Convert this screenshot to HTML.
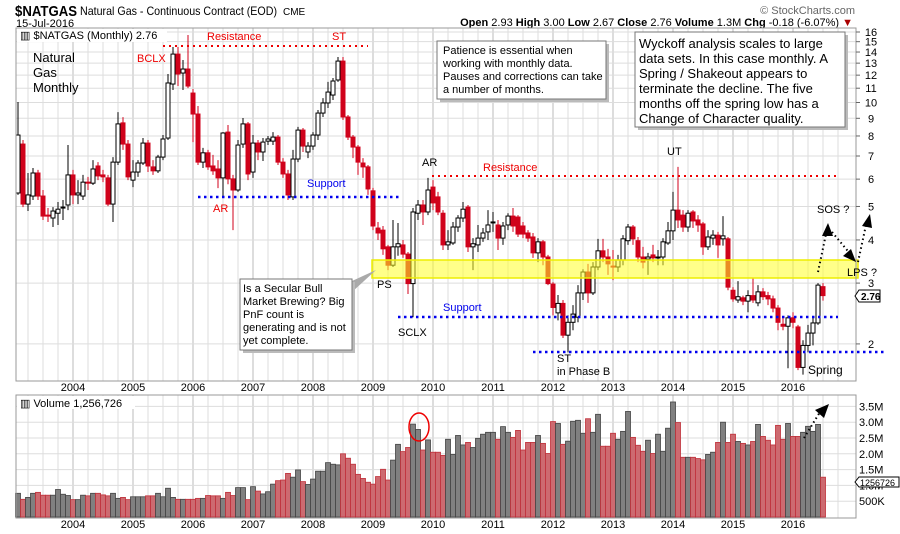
<!DOCTYPE html>
<html><head><meta charset="utf-8"><style>
html,body{margin:0;padding:0;background:#fff;}
svg{display:block;font-family:"Liberation Sans",sans-serif;}
</style></head><body>
<svg id="chart" width="900" height="534" viewBox="0 0 900 534" xmlns="http://www.w3.org/2000/svg">
<rect x="0" y="0" width="900" height="534" fill="#fff"/>
<text x="15" y="16" font-size="15" font-weight="bold" textLength="62" lengthAdjust="spacingAndGlyphs">$NATGAS</text>
<text x="80" y="15" font-size="12" textLength="197" lengthAdjust="spacingAndGlyphs">Natural Gas - Continuous Contract (EOD)</text>
<text x="283" y="15" font-size="10">CME</text>
<text x="16" y="27" font-size="11">15-Jul-2016</text>
<text x="855" y="14" font-size="11" fill="#666" text-anchor="end">© StockCharts.com</text>
<text x="853" y="26" font-size="11" text-anchor="end"><tspan font-weight="bold">Open</tspan> 2.93 <tspan font-weight="bold">High</tspan> 3.00 <tspan font-weight="bold">Low</tspan> 2.67 <tspan font-weight="bold">Close</tspan> 2.76 <tspan font-weight="bold">Volume</tspan> 1.3M <tspan font-weight="bold">Chg</tspan> -0.18 (-6.07%) <tspan fill="#a00">▼</tspan></text>

<g id="grid"></g>
<defs><clipPath id="pc"><rect x="16" y="28" width="840" height="353"/></clipPath></defs>
<g id="candles" clip-path="url(#pc)"></g>
<rect x="372" y="260" width="486" height="18" fill="rgba(255,255,40,0.55)" stroke="#ee0" stroke-width="1.5"/>
<g id="volbars"></g>
<rect x="16" y="28" width="840" height="353" fill="none" stroke="#999"/>
<rect x="16" y="395" width="840" height="123" fill="none" stroke="#999"/>
<g id="axes" font-size="11"></g>

<rect x="17" y="29" width="150" height="13" fill="#fff"/>
<text x="20" y="39" font-size="11">▥ $NATGAS (Monthly) 2.76</text>
<rect x="17" y="396" width="118" height="13" fill="#fff"/>
<text x="20" y="407" font-size="11">▥ Volume 1,256,726</text>

<g>
<text font-size="13" x="33" y="62">Natural</text>
<text font-size="13" x="33" y="77">Gas</text>
<text font-size="13" x="33" y="92">Monthly</text>
<line x1="163" y1="46" x2="368" y2="46" stroke="#e00" stroke-width="2" stroke-dasharray="2,4"/>
<text x="207" y="40" font-size="11" fill="#e00">Resistance</text>
<text x="332" y="40" font-size="11" fill="#e00">ST</text>
<text x="137" y="62" font-size="11" fill="#e00">BCLX</text>
<line x1="198" y1="197" x2="400" y2="197" stroke="#00e" stroke-width="2.5" stroke-dasharray="2.5,3.5"/>
<text x="307" y="187" font-size="11" fill="#00e">Support</text>
<text x="213" y="212" font-size="11" fill="#e00">AR</text>
<text x="422" y="166" font-size="11">AR</text>
<line x1="432" y1="176" x2="836" y2="176" stroke="#e00" stroke-width="2" stroke-dasharray="2,4"/>
<text x="483" y="171" font-size="11" fill="#e00">Resistance</text>
<text x="667" y="155" font-size="11">UT</text>
<line x1="398" y1="317" x2="838" y2="317" stroke="#00e" stroke-width="2.5" stroke-dasharray="2.5,3.5"/>
<text x="443" y="311" font-size="11" fill="#00e">Support</text>
<line x1="533" y1="352" x2="884" y2="352" stroke="#00e" stroke-width="2.5" stroke-dasharray="2.5,3.5"/>
<text x="377" y="288" font-size="11">PS</text>
<text x="398" y="336" font-size="11">SCLX</text>
<text x="557" y="362" font-size="11">ST</text>
<text x="557" y="375" font-size="11">in Phase B</text>
<text x="808" y="374" font-size="12">Spring</text>
<text x="817" y="213" font-size="11">SOS ?</text>
<text x="847" y="276" font-size="11">LPS ?</text>
<g stroke="#000" stroke-width="2" stroke-dasharray="1.5,3" fill="none">
<line x1="818" y1="272" x2="826" y2="234"/>
<line x1="832" y1="232" x2="852" y2="256"/>
<line x1="858" y1="262" x2="866" y2="225"/>
</g>
<polygon points="828,223 822,236 833,236" fill="#000"/>
<polygon points="856,262 843,256 851,249" fill="#000"/>
<polygon points="870,214 862,226 872,228" fill="#000"/>
<rect x="440" y="44" width="169" height="58" fill="#bbb"/>
<rect x="437" y="41" width="169" height="58" fill="#fff" stroke="#777"/>
<text font-size="11"><tspan x="443" y="54">Patience is essential when</tspan><tspan x="443" y="67">working with monthly data.</tspan><tspan x="443" y="80">Pauses and corrections can take</tspan><tspan x="443" y="93">a number of months.</tspan></text>
<rect x="638" y="35" width="210" height="95" fill="#bbb"/>
<rect x="635" y="32" width="210" height="95" fill="#fff" stroke="#777"/>
<text font-size="13"><tspan x="639" y="48">Wyckoff analysis scales to large</tspan><tspan x="639" y="63">data sets. In this case monthly. A</tspan><tspan x="639" y="78">Spring / Shakeout appears to</tspan><tspan x="639" y="93">terminate the decline. The five</tspan><tspan x="639" y="108">months off the spring low has a</tspan><tspan x="639" y="123">Change of Character quality.</tspan></text>
<polygon points="352,281 352,292 376,270" fill="#aaa"/>
<rect x="243" y="282" width="112" height="71" fill="#bbb"/>
<rect x="240" y="279" width="112" height="71" fill="#fff" stroke="#777"/>
<text font-size="11"><tspan x="243" y="292">Is a Secular Bull</tspan><tspan x="243" y="305">Market Brewing? Big</tspan><tspan x="243" y="318">PnF count is</tspan><tspan x="243" y="331">generating and is not</tspan><tspan x="243" y="344">yet complete.</tspan></text>
<ellipse cx="419" cy="427" rx="10" ry="14" fill="none" stroke="#e00" stroke-width="1.5"/>
<line x1="804" y1="438" x2="820" y2="412" stroke="#000" stroke-width="2" stroke-dasharray="1.5,3"/>
<polygon points="829,404 815,410 824,418" fill="#000"/>
<polygon points="855,296 859,290 880,290 880,302 859,302" fill="#fff" stroke="#000"/>
<text x="861" y="300" font-size="10" font-weight="bold">2.76</text>
<polygon points="855,482 859,477 899,477 899,487 859,487" fill="#fff" stroke="#000"/>
<text x="860" y="486" font-size="9">1256726</text>
</g>
</svg>
<script>
// Monthly candles starting Feb 2003 (month index 1) through Jul 2016
const opens=[5.47,7.58,5.08,5.36,6.25,5.36,4.72,4.63,4.78,4.95,5.05,6.17,5.40,5.36,5.88,5.84,6.55,6.17,6.05,5.08,6.72,8.73,7.58,5.96,6.29,6.68,7.63,6.51,6.34,6.95,7.89,11.31,13.81,12.17,12.50,10.65,9.26,6.72,7.15,6.55,6.42,6.05,8.21,6.01,5.58,7.58,8.67,6.29,7.63,7.19,7.73,7.73,7.94,6.72,6.21,5.33,6.86,8.32,7.19,7.48,8.05,9.32,9.97,10.51,11.62,13.18,9.08,7.94,7.43,6.68,6.51,5.55,4.33,4.27,3.82,3.38,3.82,3.87,3.64,2.99,4.78,5.05,4.82,5.69,5.33,4.78,3.87,3.92,4.36,4.63,4.98,3.82,3.87,4.05,4.22,4.48,4.42,4.05,4.42,4.69,4.66,4.39,4.19,4.08,3.67,3.95,3.57,2.98,2.46,2.62,2.12,2.31,2.39,2.81,3.23,2.81,3.34,3.72,3.57,3.36,3.34,3.50,3.98,4.36,3.98,3.57,3.52,3.62,3.55,3.57,3.92,4.25,4.88,4.72,4.36,4.82,4.57,4.45,3.82,4.05,4.13,4.03,4.03,2.86,2.68,2.72,2.66,2.76,2.63,2.83,2.76,2.70,2.54,2.28,2.25,2.38,2.24,1.71,1.98,2.15,2.30,2.93];
const highs=[10.03,7.79,6.25,6.46,6.38,5.58,4.95,4.98,5.15,5.22,7.53,6.38,5.96,6.17,6.09,6.81,6.72,6.38,6.17,6.95,9.38,9.07,7.79,6.81,6.81,7.89,7.79,6.81,7.05,8.05,12.09,14.48,14.48,13.27,15.68,10.94,9.77,7.39,7.29,7.05,6.81,8.21,8.61,6.17,7.79,9.02,8.78,8.05,7.79,7.89,8.00,8.21,8.05,6.90,6.38,7.29,8.50,8.44,7.68,8.21,9.51,10.30,11.47,11.77,13.54,13.54,9.20,8.05,7.53,6.90,6.59,5.66,4.51,4.39,3.87,4.57,4.48,4.00,3.69,4.95,5.22,5.22,6.05,5.96,5.51,4.88,4.27,4.51,4.72,5.15,5.05,4.05,4.42,4.33,4.88,4.82,4.57,4.51,4.78,4.95,4.72,4.51,4.27,4.19,4.05,4.00,3.62,3.02,2.77,2.68,2.42,2.59,2.96,3.29,3.41,3.45,4.03,4.03,3.77,3.74,3.62,4.13,4.45,4.42,4.08,3.82,3.67,3.87,3.74,4.05,4.51,5.51,6.51,4.88,4.88,4.88,4.72,4.51,4.27,4.27,4.22,4.69,4.08,2.92,3.04,2.76,2.86,3.10,2.96,2.90,2.83,2.76,2.59,2.38,2.42,2.47,2.27,2.05,2.27,2.38,3.00,3.00];
const lows=[5.40,4.98,4.85,5.22,5.22,4.57,4.51,4.36,4.42,4.57,4.88,5.08,5.08,5.22,5.58,5.77,5.96,5.88,5.01,4.51,6.59,7.29,5.96,5.69,6.09,6.59,6.29,6.17,6.25,6.81,7.79,10.87,11.16,10.87,11.01,7.68,6.59,6.46,6.38,6.17,5.65,5.33,5.80,4.27,5.51,7.39,5.96,6.05,6.81,6.77,7.53,7.53,6.59,6.05,5.22,5.22,6.72,7.19,6.90,7.29,7.79,9.08,9.64,10.17,11.47,8.90,7.79,6.90,6.17,6.05,5.40,4.27,4.00,3.62,3.27,3.34,3.60,3.55,2.79,2.39,4.57,4.42,4.72,4.88,4.72,3.74,3.74,3.87,4.22,4.51,3.69,3.27,3.69,3.95,4.00,4.22,3.74,3.87,4.27,4.22,4.08,4.05,3.95,3.55,3.45,3.38,2.96,2.42,2.34,2.08,1.89,2.19,2.31,2.68,2.63,2.77,3.27,3.45,3.17,3.06,3.23,3.38,3.87,3.87,3.45,3.31,3.17,3.45,3.38,3.38,3.87,4.00,4.33,4.22,4.22,4.33,4.22,3.62,3.74,3.87,3.55,3.85,2.86,2.65,2.63,2.59,2.47,2.63,2.57,2.68,2.59,2.47,2.19,2.19,1.70,2.22,1.68,1.63,1.89,1.98,2.27,2.67];
const closes=[8.05,5.08,5.40,6.25,5.36,4.69,4.69,4.85,4.91,4.98,6.17,5.40,5.47,5.88,5.84,6.42,6.13,6.09,5.08,6.72,8.67,7.58,6.09,6.29,6.68,7.63,6.55,6.34,6.95,7.84,11.39,13.81,12.09,12.50,11.16,9.26,6.72,7.15,6.51,6.34,6.05,8.16,6.01,5.58,7.53,8.67,6.21,7.63,7.19,7.68,7.84,7.94,6.72,6.21,5.40,6.86,8.32,7.48,7.48,8.05,9.32,9.97,10.72,11.54,13.18,9.08,7.94,7.43,6.72,6.51,5.62,4.39,4.19,3.77,3.38,3.82,3.90,3.64,2.99,4.82,5.05,4.82,5.58,5.12,4.82,3.87,3.95,4.36,4.63,4.91,3.82,3.90,4.05,4.19,4.42,4.51,4.05,4.39,4.69,4.39,4.16,4.16,4.05,3.67,3.95,3.57,2.99,2.55,2.62,2.12,2.31,2.44,2.81,3.23,2.81,3.34,3.72,3.57,3.41,3.34,3.50,4.03,4.36,4.03,3.57,3.45,3.57,3.55,3.57,3.95,4.25,4.88,4.57,4.36,4.78,4.54,4.42,3.82,4.08,4.13,3.87,4.11,2.92,2.70,2.74,2.66,2.76,2.68,2.83,2.74,2.70,2.54,2.31,2.25,2.38,2.31,1.71,1.98,2.15,2.30,2.96,2.76];
const volumes=[0.75,0.56,0.62,0.75,0.78,0.69,0.69,0.69,0.87,0.72,0.68,0.55,0.55,0.69,0.67,0.75,0.75,0.70,0.67,0.75,0.59,0.62,0.55,0.64,0.64,0.64,0.67,0.67,0.75,0.64,0.91,0.62,0.56,0.56,0.56,0.56,0.59,0.59,0.68,0.67,0.67,0.59,0.78,0.68,0.93,0.93,0.55,0.96,0.82,0.73,0.80,1.04,1.15,1.17,1.38,1.26,1.49,1.12,1.03,1.20,1.45,1.45,1.72,1.67,1.65,2.00,1.86,1.67,1.35,1.22,1.10,1.04,1.28,1.51,1.17,1.80,2.30,2.07,2.20,2.94,2.77,2.12,2.44,2.05,2.05,1.95,2.46,1.98,2.58,2.28,2.36,2.20,2.49,2.62,2.68,2.68,2.46,2.86,2.68,2.52,2.74,2.12,2.36,2.36,2.58,2.33,2.01,3.02,2.96,2.30,2.40,3.03,3.06,2.65,3.11,2.68,3.25,2.24,2.24,2.65,2.46,2.71,3.34,2.52,2.27,2.08,2.43,2.01,2.62,2.08,2.81,3.64,2.99,1.89,1.89,1.89,1.85,1.81,1.98,2.05,2.36,3.00,2.36,2.62,2.39,2.33,2.28,2.39,2.93,2.55,2.43,2.28,2.90,2.46,2.96,2.55,2.55,2.68,2.87,2.71,2.93,1.26];
const priceTicks=[2,3,4,5,6,7,8,9,10,11,12,13,14,15,16];
const volTicks=[0.5,1.0,1.5,2.0,2.5,3.0,3.5];
const volTickLabels=["500K","1.0M","1.5M","2.0M","2.5M","3.0M","3.5M"];
const yearLabels=["2004","2005","2006","2007","2008","2009","2010","2011","2012","2013","2014","2015","2016"];

const NS="http://www.w3.org/2000/svg";
function xAt(i){return 13+5*i;}
function yP(p){return 102.5-150*Math.log(p/10);}
function yV(v){return 517-31.6*v;}
function mk(tag,attrs,parent){const e=document.createElementNS(NS,tag);for(const k in attrs)e.setAttribute(k,attrs[k]);parent.appendChild(e);return e;}

const grid=document.getElementById('grid');
const axes=document.getElementById('axes');
for(let m=0;m<=165;m+=3){
  const x=xAt(m); if(x<16||x>856) continue;
  const major=(m%12===0);
  const l1=mk('line',{x1:x,y1:28,x2:x,y2:381,stroke:major?'#bbb':'#ddd','stroke-width':1},grid);
  
  
  const l2=mk('line',{x1:x,y1:395,x2:x,y2:518,stroke:major?'#bbb':'#ddd','stroke-width':1},grid);
  
  
}
priceTicks.forEach(p=>{
  const y=yP(p);
  const l=mk('line',{x1:16,y1:y,x2:856,y2:y,stroke:'#ddd'},grid);
  
  
  mk('line',{x1:856,y1:y,x2:860,y2:y,stroke:'#666'},axes);
  const t=mk('text',{x:871,y:y+4,'text-anchor':'middle'},axes);
  t.textContent=p;
  
  
});
volTicks.forEach((v,k)=>{
  const y=yV(v);
  const l=mk('line',{x1:16,y1:y,x2:856,y2:y,stroke:'#ddd'},grid);
  
  
  const t=mk('text',{x:859,y:y+4},axes);
  t.textContent=volTickLabels[k];
  
  
});
yearLabels.forEach((lab,k)=>{
  const x=xAt(12+12*k);
  [391,528].forEach(y=>{
    const t=mk('text',{x:x,y:y,'text-anchor':'middle'},axes);
    t.textContent=lab;
    
    
  });
});

const cg=document.getElementById('candles');
const vg=document.getElementById('volbars');
for(let k=0;k<closes.length;k++){
  const i=k+1, x=xAt(i);
  const o=opens[k],c=closes[k],h=highs[k],lo=lows[k];
  const up=c>=o;
  const col=up?'#000':'#d0021b';
  const w=mk('line',{x1:x,y1:yP(h),x2:x,y2:yP(lo),stroke:col,'stroke-width':1},cg);
  
  
  const top=Math.min(yP(o),yP(c)), bh=Math.max(1,Math.abs(yP(o)-yP(c)));
  const b=mk('rect',{x:x-2,y:top,width:4,height:bh,fill:up?'#fff':'#d0021b',stroke:col,'stroke-width':1},cg);
  
  
  const vy=yV(volumes[k]);
  const vb=mk('rect',{x:x-2.5,y:vy,width:5,height:517-vy,fill:up?'#808080':'#cd6a70',stroke:up?'#444':'#c0303a','stroke-width':0.8},vg);
  
  
}
</script>
</body></html>
